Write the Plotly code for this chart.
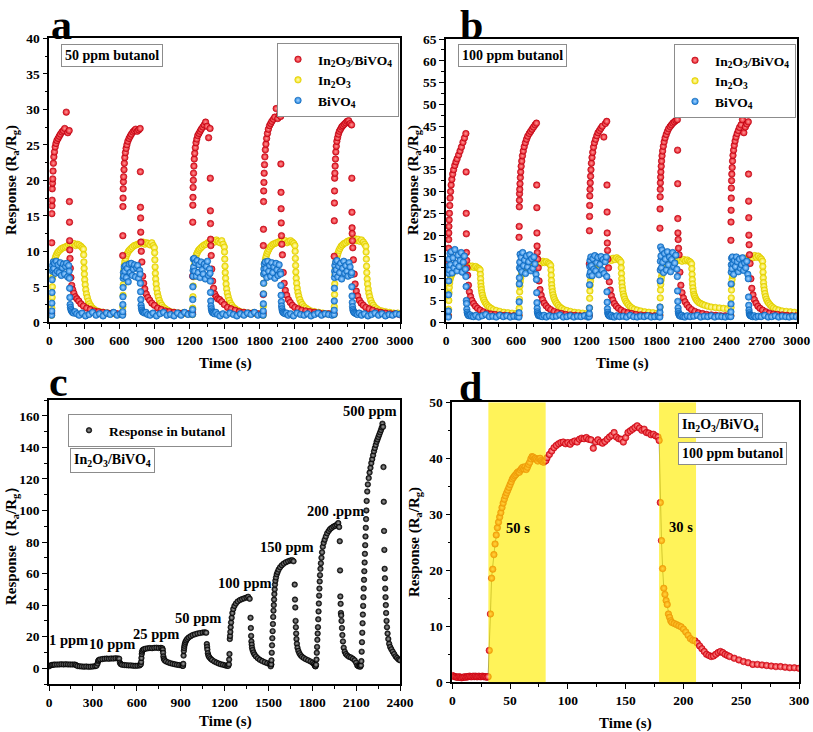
import plotly.graph_objects as go

FONT = "Liberation Serif, Times New Roman, serif"

# ---------------- Panels a / b : cycling data ----------------
A_ONSETS = [20, 627, 1225, 1829, 2436]
B_ONSETS = [20, 624, 1225, 1829, 2436]

RED_REL_T = [0, 1, 2, 3, 4, 5, 7, 9, 12, 15, 19, 24, 30, 37, 45, 55, 65, 75, 88, 100,
             112, 125, 138, 150, 152, 153, 154, 155, 157, 160, 165,
             172, 180, 190, 202, 216, 232, 250, 272, 300, 330, 365, 400, 440, 480, 520, 560]
YEL_REL_T = [0, 2, 4, 6, 8, 11, 15, 20, 26, 33, 41, 50, 60, 72, 85, 100, 115, 130, 145, 160,
             175, 190, 205, 220, 235, 250, 262, 272, 274, 276, 278, 280, 283, 287, 292,
             298, 305, 314, 324, 336, 350, 366, 385, 410, 440, 475, 510, 545, 580]
BLU_REL_T = [0, 1, 2, 3, 4, 5, 7, 10, 14, 19, 25, 32, 40, 48, 56, 65, 74, 83, 92, 101,
             110, 119, 128, 137, 146, 150, 152, 154, 156, 158, 161, 165, 170, 178, 188, 200,
             215, 235, 260, 290, 320, 350, 380, 410, 440, 470, 500, 530, 560, 590]

A_RED = [
    [1.3, 11.2, 15.3, 16.4, 17.2, 18.8, 19.6, 20.2, 21.3, 22.4, 23.3, 24.0, 24.7, 25.2, 25.6, 25.9, 26.2, 26.5, 26.8, 27.0, 27.3, 29.6, 26.7, 27.0,
     17.0, 14.1, 11.5, 10.2, 9.0, 7.6, 6.3, 5.2, 4.6, 4.1, 3.6, 3.3, 3.0, 2.6, 2.3, 2.0, 1.8, 1.6, 1.5, 1.4, 1.3, 1.3, 1.2],
    [1.2, 9.4, 12.2, 16.3, 17.5, 18.8, 19.8, 20.5, 21.5, 22.4, 23.2, 23.9, 24.5, 25.0, 25.5, 25.9, 26.2, 26.5, 26.8, 27.0, 27.2, 26.9, 27.1, 27.3,
     21.2, 16.2, 14.7, 12.7, 11.3, 10.0, 8.5, 6.5, 5.5, 4.7, 4.0, 3.5, 3.1, 2.7, 2.4, 2.0, 1.8, 1.6, 1.5, 1.4, 1.3, 1.3, 1.2],
    [1.3, 6.5, 14.1, 16.5, 17.6, 19.0, 20.0, 21.0, 22.0, 23.0, 23.8, 24.6, 25.3, 25.8, 26.3, 26.6, 26.9, 27.2, 27.5, 27.8, 28.2, 27.6, 26.0, 27.3,
     20.3, 15.7, 13.9, 11.7, 10.8, 9.4, 7.5, 5.8, 4.8, 4.0, 3.6, 3.3, 3.2, 2.9, 2.5, 2.1, 1.9, 1.7, 1.5, 1.4, 1.3, 1.3, 1.2],
    [1.3, 3.9, 10.8, 13.1, 17.0, 18.5, 19.7, 21.0, 22.2, 23.3, 24.3, 25.1, 25.9, 26.6, 27.2, 27.7, 28.0, 28.3, 28.6, 28.9, 30.1, 28.7, 29.2, 29.0,
     22.3, 18.3, 16.0, 14.0, 12.2, 11.0, 9.5, 7.0, 5.5, 4.5, 3.8, 3.2, 2.8, 2.4, 2.1, 1.9, 1.7, 1.6, 1.5, 1.4, 1.3, 1.2, 1.2],
    [1.2, 9.3, 14.3, 16.8, 18.5, 20.3, 21.0, 22.0, 23.0, 24.0, 24.8, 25.5, 26.0, 26.5, 26.9, 27.2, 27.5, 27.7, 27.9, 28.1, 28.3, 28.4, 28.0, 27.8,
     20.3, 15.5, 13.3, 12.5, 11.5, 10.5, 8.8, 6.8, 5.4, 4.4, 3.7, 3.1, 2.7, 2.4, 2.1, 1.9, 1.7, 1.5, 1.4, 1.3, 1.2, 1.2, 1.1],
]
A_YEL = [
    [1.0, 2.0, 3.5, 5.0, 6.3, 7.2, 7.9, 8.4, 8.8, 9.2, 9.5, 9.8, 10.0, 10.2, 10.4, 10.5, 10.6, 10.7, 10.9, 11.0,
     10.9, 11.1, 10.8, 11.0, 10.9, 10.7, 10.5, 10.3, 9.5, 8.5, 7.6, 6.8, 6.0, 5.3, 4.6,
     4.0, 3.5, 3.0, 2.6, 2.3, 2.0, 1.8, 1.6, 1.5, 1.4, 1.3, 1.2, 1.2, 1.1],
    [1.1, 2.2, 3.8, 5.3, 6.5, 7.4, 8.1, 8.6, 9.0, 9.4, 9.7, 10.0, 10.2, 10.4, 10.6, 10.8, 10.9, 11.0, 11.1, 11.2,
     11.3, 11.0, 11.2, 11.1, 10.9, 11.2, 10.8, 10.5, 9.8, 8.8, 7.8, 6.9, 6.1, 5.4, 4.7,
     4.1, 3.6, 3.1, 2.7, 2.4, 2.1, 1.9, 1.7, 1.5, 1.4, 1.3, 1.3, 1.2, 1.2],
    [1.1, 2.0, 3.6, 5.1, 6.4, 7.3, 8.0, 8.6, 9.1, 9.5, 9.8, 10.1, 10.3, 10.5, 10.7, 10.9, 11.0, 11.2, 11.3, 11.4,
     11.5, 11.3, 11.6, 11.4, 11.2, 11.5, 11.0, 10.6, 9.9, 8.9, 7.9, 7.0, 6.2, 5.4, 4.7,
     4.1, 3.6, 3.1, 2.7, 2.4, 2.1, 1.9, 1.7, 1.5, 1.4, 1.3, 1.3, 1.2, 1.2],
    [1.0, 2.3, 4.0, 5.5, 6.8, 7.7, 8.4, 8.9, 9.3, 9.7, 10.0, 10.3, 10.6, 10.8, 11.0, 11.1, 11.2, 11.3, 11.4, 11.5,
     11.3, 11.5, 11.2, 11.4, 11.5, 11.3, 11.1, 10.8, 10.0, 9.0, 8.0, 7.1, 6.2, 5.5, 4.8,
     4.2, 3.7, 3.2, 2.8, 2.5, 2.2, 2.0, 1.8, 1.6, 1.5, 1.4, 1.3, 1.2, 1.2],
    [1.1, 2.2, 3.9, 5.4, 6.7, 7.6, 8.3, 8.9, 9.3, 9.7, 10.1, 10.4, 10.7, 10.9, 11.1, 11.2, 11.4, 11.5, 11.6, 11.7,
     11.8, 11.5, 11.7, 11.4, 11.6, 11.3, 11.0, 10.7, 9.9, 8.9, 7.9, 7.0, 6.1, 5.4, 4.7,
     4.1, 3.6, 3.1, 2.7, 2.4, 2.1, 1.9, 1.7, 1.6, 1.5, 1.4, 1.3, 1.3, 1.2],
]
A_BLU = [
    [1.0, 1.6, 2.7, 4.2, 6.0, 7.2, 8.0, 7.4, 8.5, 7.6, 8.3, 6.9, 8.6, 7.2, 8.1, 7.0, 8.4, 6.6, 7.7, 8.2,
     6.8, 7.9, 8.3, 6.4, 8.0, 7.2, 6.2, 4.8, 3.5, 2.5, 2.1, 1.8, 1.6, 1.4, 1.3, 1.5,
     1.2, 1.0, 1.3, 0.9, 1.1, 1.4, 1.0, 1.2, 0.9, 1.3, 1.1, 1.4, 1.0, 1.2],
    [1.0, 1.5, 2.5, 3.6, 4.9, 6.2, 7.0, 6.5, 7.8, 7.2, 8.0, 6.3, 7.6, 5.7, 8.2, 7.0, 8.3, 6.6, 7.5, 8.1,
     6.4, 7.7, 8.0, 6.2, 7.3, 6.8, 5.5, 4.3, 3.2, 2.4, 2.0, 1.7, 1.5, 1.4, 1.3, 1.4,
     1.1, 1.0, 1.3, 0.9, 1.2, 1.4, 1.0, 1.1, 0.9, 1.3, 1.0, 1.4, 1.1, 1.2],
    [1.1, 1.8, 3.2, 5.0, 6.5, 7.3, 8.9, 7.8, 9.0, 7.2, 8.4, 6.5, 8.7, 7.0, 8.1, 6.3, 8.5, 7.4, 6.8, 8.2,
     6.1, 7.9, 8.6, 6.6, 7.5, 6.9, 5.8, 4.2, 3.0, 2.3, 1.9, 1.6, 1.4, 1.3, 1.2, 1.4,
     1.1, 0.9, 1.2, 1.0, 1.3, 1.1, 0.9, 1.2, 1.0, 1.3, 1.1, 1.4, 1.0, 1.1],
    [1.0, 1.6, 2.6, 4.0, 5.5, 6.8, 7.5, 8.2, 7.0, 8.5, 7.6, 6.3, 8.6, 7.2, 8.0, 6.5, 8.4, 7.0, 7.8, 6.2,
     8.3, 7.4, 6.6, 8.1, 7.1, 6.8, 5.2, 3.8, 2.9, 2.3, 1.9, 1.6, 1.4, 1.3, 1.2, 1.3,
     1.0, 1.2, 0.9, 1.3, 1.1, 1.0, 1.2, 0.9, 1.1, 1.3, 1.0, 1.2, 1.1, 1.0],
    [1.1, 1.7, 3.0, 4.8, 6.3, 7.2, 8.0, 6.8, 8.5, 7.4, 8.7, 6.4, 7.9, 7.0, 8.3, 6.1, 7.6, 8.6, 6.9, 8.0,
     7.2, 6.5, 8.4, 7.8, 6.7, 7.0, 5.0, 3.7, 2.8, 2.2, 1.8, 1.6, 1.4, 1.3, 1.2, 1.1,
     1.3, 1.0, 1.2, 0.9, 1.1, 1.3, 1.0, 1.2, 0.9, 1.1, 1.0, 1.2, 1.1, 1.0],
]

B_RED = [
    [1.5, 13.5, 17.0, 19.0, 20.5, 22.0, 23.5, 25.0, 26.8, 28.5, 30.0, 31.5, 32.8, 34.0, 35.0, 36.0, 36.8, 37.5, 38.4, 39.3, 40.2, 41.3, 42.3, 43.3,
     34.5, 25.0, 20.3, 16.0, 14.2, 12.5, 10.8, 8.5, 7.0, 5.9, 5.0, 4.3, 3.7, 3.2, 2.8, 2.4, 2.1, 1.9, 1.8, 1.7, 1.6, 1.5, 1.5],
    [1.6, 19.5, 22.0, 26.5, 28.0, 29.5, 30.5, 31.8, 33.2, 34.5, 35.8, 37.0, 38.2, 39.3, 40.3, 41.2, 42.0, 42.7, 43.3, 43.8, 44.3, 44.8, 45.3, 45.7,
     31.5, 26.3, 20.5, 17.5, 16.0, 14.5, 12.5, 9.5, 7.5, 6.2, 5.2, 4.4, 3.8, 3.3, 2.9, 2.5, 2.2, 2.0, 1.8, 1.7, 1.6, 1.5, 1.5],
    [1.5, 13.4, 21.0, 24.3, 26.8, 29.0, 30.5, 32.0, 33.5, 35.0, 36.5, 37.8, 39.0, 40.2, 41.2, 42.0, 42.8, 43.5, 44.0, 44.5, 45.0, 42.5, 45.6, 46.1,
     31.5, 25.3, 20.5, 18.2, 16.5, 14.5, 12.5, 9.3, 7.4, 6.1, 5.1, 4.3, 3.7, 3.2, 2.8, 2.4, 2.2, 2.0, 1.8, 1.7, 1.6, 1.5, 1.5],
    [1.6, 21.6, 26.0, 28.8, 30.5, 32.0, 33.3, 34.5, 35.8, 37.0, 38.2, 39.3, 40.4, 41.4, 42.3, 43.1, 43.8, 44.4, 44.9, 45.3, 45.7, 46.0, 46.3, 46.5,
     39.5, 31.8, 23.8, 20.5, 19.0, 17.0, 15.5, 11.5, 8.5, 6.8, 5.6, 4.7, 4.0, 3.4, 2.9, 2.5, 2.2, 2.0, 1.8, 1.7, 1.6, 1.5, 1.5],
    [1.5, 18.8, 23.0, 25.7, 28.5, 30.8, 32.5, 34.0, 35.5, 37.0, 38.3, 39.5, 40.6, 41.6, 42.5, 43.3, 44.0, 44.7, 45.3, 46.5, 43.5, 44.8, 45.5, 46.0,
     34.0, 27.8, 24.0, 20.0, 17.8, 15.5, 13.5, 10.0, 7.8, 6.3, 5.2, 4.4, 3.7, 3.2, 2.8, 2.4, 2.1, 1.9, 1.8, 1.7, 1.6, 1.5, 1.5],
]
B_YEL = [
    [1.5, 3.0, 5.0, 6.8, 8.0, 9.0, 9.8, 10.4, 10.8, 11.2, 11.5, 11.8, 12.0, 12.2, 12.4, 12.5, 12.6, 12.7, 12.8, 12.9,
     13.0, 12.7, 12.9, 12.6, 12.8, 12.5, 12.3, 12.0, 11.0, 10.0, 9.0, 8.2, 7.5, 6.8, 6.2,
     5.6, 5.1, 4.6, 4.2, 3.8, 3.5, 3.2, 2.9, 2.7, 2.5, 2.3, 2.2, 2.1, 2.0],
    [1.6, 3.2, 5.3, 7.0, 8.3, 9.3, 10.1, 10.8, 11.3, 11.7, 12.0, 12.3, 12.6, 12.8, 13.0, 13.2, 13.4, 13.5, 13.7, 13.8,
     13.9, 13.6, 14.0, 13.7, 13.9, 13.6, 13.4, 13.0, 12.0, 10.8, 9.6, 8.6, 7.8, 7.0, 6.3,
     5.7, 5.2, 4.7, 4.3, 3.9, 3.5, 3.2, 2.9, 2.7, 2.5, 2.3, 2.2, 2.1, 2.0],
    [1.6, 3.3, 5.5, 7.2, 8.5, 9.5, 10.4, 11.1, 11.7, 12.1, 12.5, 12.8, 13.1, 13.4, 13.6, 13.8, 14.0, 14.2, 14.3, 14.4,
     14.5, 14.2, 14.7, 14.4, 14.8, 14.5, 14.2, 13.8, 12.5, 11.2, 10.0, 9.0, 8.1, 7.3, 6.5,
     5.9, 5.3, 4.8, 4.4, 4.0, 3.6, 3.3, 3.0, 2.8, 2.6, 2.4, 2.3, 2.2, 2.1],
    [1.7, 3.5, 5.6, 7.4, 8.7, 9.7, 10.5, 11.2, 11.7, 12.1, 12.5, 12.8, 13.0, 13.3, 13.5, 13.7, 13.9, 14.0, 14.1, 14.2,
     14.3, 14.0, 14.4, 14.1, 14.3, 14.0, 13.8, 13.4, 12.3, 11.0, 9.8, 8.8, 7.9, 7.1, 6.4,
     6.0, 5.5, 5.1, 4.8, 4.5, 4.3, 4.1, 3.9, 3.7, 3.5, 3.4, 3.3, 3.2, 3.1],
    [1.6, 3.4, 5.6, 7.4, 8.8, 9.8, 10.7, 11.4, 12.0, 12.5, 12.9, 13.3, 13.6, 13.9, 14.1, 14.3, 14.5, 14.7, 14.8, 14.9,
     15.0, 14.8, 15.3, 14.9, 15.2, 14.8, 14.5, 14.0, 12.8, 11.5, 10.2, 9.1, 8.2, 7.4, 6.6,
     5.9, 5.3, 4.8, 4.4, 4.0, 3.6, 3.3, 3.0, 2.8, 2.6, 2.5, 2.4, 2.3, 2.2],
]
B_BLU = [
    [1.2, 2.6, 6.3, 9.5, 11.2, 13.0, 14.5, 12.0, 15.8, 13.2, 16.2, 11.3, 14.8, 12.5, 16.7, 13.5, 11.8, 15.4, 12.8, 14.2,
     16.0, 11.5, 13.8, 15.2, 12.2, 10.5, 8.2, 5.0, 4.3, 3.0, 2.3, 1.9, 1.6, 1.5, 1.7, 1.4,
     1.3, 1.6, 1.2, 1.5, 1.8, 1.3, 1.4, 1.2, 1.6, 1.3, 1.5, 1.2, 1.4, 1.3],
    [1.2, 2.2, 4.7, 8.8, 10.2, 12.5, 13.8, 15.6, 12.2, 14.9, 11.6, 16.0, 13.0, 14.3, 11.2, 15.2, 12.7, 13.9, 15.5, 11.8,
     14.6, 12.4, 15.0, 13.4, 11.0, 9.8, 6.8, 4.5, 3.2, 2.4, 2.0, 1.7, 1.5, 1.6, 1.4, 1.3,
     1.6, 1.2, 1.5, 1.3, 1.4, 1.7, 1.2, 1.3, 1.5, 1.2, 1.4, 1.3, 1.5, 1.2],
    [1.3, 2.0, 3.3, 8.6, 10.8, 12.8, 14.2, 11.5, 15.0, 13.0, 10.7, 14.6, 12.2, 15.3, 11.8, 13.7, 14.9, 10.9, 13.3, 15.1,
     12.0, 14.4, 11.2, 13.9, 15.0, 10.5, 7.0, 4.6, 3.1, 2.3, 1.9, 1.7, 1.5, 1.4, 1.6, 1.3,
     1.2, 1.5, 1.3, 1.4, 1.2, 1.6, 1.3, 1.2, 1.4, 1.3, 1.5, 1.2, 1.3, 1.4],
    [1.2, 2.3, 3.5, 9.5, 12.0, 14.0, 17.3, 15.2, 12.5, 16.6, 13.8, 11.4, 15.8, 14.5, 12.0, 16.2, 13.2, 15.0, 11.6, 14.4,
     16.0, 12.8, 13.6, 15.4, 12.2, 10.5, 7.2, 4.8, 3.3, 2.5, 2.0, 1.7, 1.5, 1.4, 1.6, 1.3,
     1.2, 1.5, 1.3, 1.4, 1.6, 1.2, 1.4, 1.3, 1.5, 1.2, 1.4, 1.3, 1.2, 1.4],
    [1.3, 2.4, 4.2, 8.8, 11.5, 13.2, 14.7, 12.3, 15.0, 13.5, 11.0, 14.2, 12.8, 15.0, 13.9, 11.6, 14.5, 12.4, 13.2, 14.8,
     11.9, 13.6, 12.5, 14.0, 11.0, 10.0, 5.8, 3.9, 2.8, 2.2, 1.8, 1.6, 1.5, 1.4, 1.3, 1.5,
     1.2, 1.4, 1.3, 1.6, 1.2, 1.3, 1.5, 1.2, 1.4, 1.3, 1.2, 1.4, 1.3, 1.2],
]

SERIES_NAMES = ["In<sub>2</sub>O<sub>3</sub>/BiVO<sub>4</sub>", "In<sub>2</sub>O<sub>3</sub>", "BiVO<sub>4</sub>"]

# ---------------- Panel c : concentration steps ----------------
C_TIME = [0, 10, 20, 30, 40, 55, 70, 85, 100, 115, 130, 145, 160, 175, 185, 195, 210, 225, 240, 255, 270, 285, 300, 315, 325,
          332, 336, 340, 350, 365, 380, 395, 410, 425, 440, 455, 470, 480,
          485, 490, 500, 515, 530, 545, 560, 575, 590, 605, 620,
          628, 630, 632, 634, 636, 640, 648, 660, 675, 690, 705, 720, 735, 750, 765, 775,
          778, 780, 782, 785, 790, 800, 815, 830, 845, 860, 875, 890, 905, 915,
          916, 918, 920, 922, 924, 926, 929, 933, 938, 945, 955, 968, 982, 998, 1015, 1032, 1050, 1065, 1075,
          1079, 1081, 1083, 1086, 1090, 1096, 1105, 1115, 1130, 1145, 1160, 1175, 1190, 1205, 1218,
          1226, 1230, 1232, 1234, 1236, 1238, 1240, 1242, 1245, 1249, 1254, 1260, 1268, 1278, 1290, 1305, 1320, 1335, 1350, 1362, 1372,
          1378, 1380, 1382, 1384, 1386, 1388, 1392, 1398, 1405, 1415, 1428, 1442, 1458, 1475, 1492, 1508, 1520,
          1516, 1519, 1521, 1523, 1525, 1527, 1529, 1531, 1533, 1535, 1537, 1539, 1541, 1543, 1545, 1548, 1552, 1557, 1563, 1570, 1580, 1592, 1605, 1620, 1635, 1650, 1663, 1672,
          1680, 1682, 1684, 1686, 1688, 1690, 1692, 1695, 1699, 1705, 1712, 1720, 1730, 1742, 1756, 1772, 1788, 1802, 1812, 1818, 1822,
          1822, 1826, 1829, 1831, 1833, 1835, 1837, 1839, 1841, 1843, 1845, 1847, 1849, 1851, 1853, 1856, 1859, 1863, 1867, 1872, 1878, 1885, 1893, 1902, 1912, 1922, 1933, 1945, 1957, 1968, 1978, 1984,
          1988, 1990, 1992, 1994, 1996, 1998, 2000, 2003, 2006, 2010, 2015, 2022, 2030, 2040, 2052, 2065, 2078, 2090, 2100, 2108, 2116, 2124,
          2128, 2133, 2136, 2138, 2140, 2142, 2144, 2146, 2148, 2150, 2152, 2154, 2156, 2158, 2160, 2162, 2164, 2166, 2168, 2170, 2172,
          2176, 2180, 2186, 2192, 2198, 2204, 2210, 2216, 2222, 2228, 2234, 2240, 2246, 2252, 2258, 2264, 2270, 2275, 2280, 2284,
          2287, 2289, 2291, 2293, 2295, 2297, 2299, 2301, 2303, 2305, 2308, 2311, 2315, 2320, 2326, 2333, 2341, 2350, 2360, 2370, 2380, 2390, 2400]
C_RESP = [1.2, 1.8, 2.1, 2.2, 2.3, 2.3, 2.4, 2.5, 2.4, 2.5, 2.4, 2.4, 2.3, 2.4, 2.0, 1.4, 1.2, 1.1, 1.0, 1.1, 0.9, 1.0, 1.1, 1.3, 1.6,
          3.0, 4.5, 5.2, 5.6, 5.8, 6.0, 6.1, 6.0, 6.2, 6.1, 6.3, 6.2, 6.0,
          3.5, 2.6, 2.2, 2.0, 1.9, 1.8, 1.8, 1.6, 1.5, 1.6, 1.8,
          2.5, 4.0, 6.5, 9.0, 10.5, 11.5, 12.0, 12.4, 12.6, 12.8, 12.7, 12.9, 13.0, 12.8, 12.9, 12.6,
          11.6, 9.8, 7.5, 6.0, 5.0, 4.3, 3.7, 3.2, 2.8, 2.5, 2.2, 2.0, 1.8, 1.6,
          1.5, 2.8, 8.0, 11.0, 12.8, 14.2, 15.5, 16.6, 17.6, 18.6, 19.5, 20.3, 21.0, 21.5, 22.0, 22.3, 22.6, 22.8, 22.5,
          15.3, 13.5, 11.8, 9.5, 8.0, 7.0, 6.0, 5.2, 4.3, 3.6, 3.0, 2.5, 2.2, 1.8, 1.5,
          1.5, 2.5, 5.5, 9.0, 18.5, 20.5, 23.0, 26.0, 29.0, 32.0, 35.0, 37.5, 39.5, 41.0, 42.3, 43.2, 43.8, 44.3, 44.8, 45.3, 44.0,
          32.0, 25.5, 20.5, 17.0, 15.0, 13.0, 11.5, 10.0, 8.7, 7.5, 6.3, 5.3, 4.5, 3.8, 3.2, 2.7, 2.3,
          1.2, 2.5, 5.0, 9.8, 14.5, 19.0, 23.5, 28.0, 32.5, 36.5, 40.0, 43.5, 47.0, 50.0, 53.0, 55.5, 57.5, 59.5, 61.0, 62.5, 64.0, 65.3, 66.3, 67.2, 67.8, 68.3, 68.5, 67.8,
          53.0, 43.5, 38.5, 30.0, 26.0, 22.0, 18.5, 15.5, 13.0, 11.0, 9.5, 8.3, 7.3, 6.5, 5.7, 5.0, 4.3, 3.5, 2.6, 1.6, 1.3,
          1.2, 2.2, 5.5, 9.8, 13.5, 18.0, 22.0, 26.0, 31.0, 36.0, 41.0, 46.0, 50.5, 55.0, 59.0, 63.0, 66.5, 70.0, 73.5, 77.0, 79.5, 81.5, 83.5, 85.5, 87.0, 88.2, 89.0, 89.8, 90.3, 91.0, 92.0, 89.5,
          80.5, 62.0, 45.5, 40.8, 35.0, 33.5, 30.0, 25.5, 21.0, 17.0, 13.0, 10.5, 9.0, 8.0, 7.2, 6.8, 6.0, 5.0, 3.5, 1.8, 1.2, 1.5,
          1.0, 1.8, 4.5, 10.5, 16.5, 22.5, 28.5, 34.0, 39.5, 45.0, 50.5, 56.0, 61.5, 67.0, 72.5, 78.0, 83.5, 89.0, 94.5, 100.0, 106.0,
          112.0, 116.5, 120.5, 124.0, 127.0, 130.0, 132.5, 135.0, 137.5, 139.5, 141.5, 143.5, 145.0, 146.5, 148.0, 149.5, 151.0, 152.5, 155.0, 153.0,
          127.5, 105.5, 87.0, 75.0, 63.0, 57.0, 50.5, 45.0, 40.0, 35.0, 30.0, 26.0, 22.0, 18.5, 15.5, 13.5, 12.0, 10.5, 9.0, 7.5, 6.5, 5.5, 5.0]
C_LABELS = ["1 ppm", "10 ppm", "25 ppm", "50 ppm", "100 ppm", "150 ppm", "200 .ppm", "500 ppm"]
C_LABEL_T = [130, 430, 730, 1020, 1340, 1630, 1960, 2195]
C_LABEL_Y = [18, 15.5, 21.8, 31.7, 53.9, 76.7, 99.7, 163]

# ---------------- Panel d : single cycle ----------------
D_TIME = [0, 1, 2, 3, 4, 5, 6, 7, 8, 9, 10, 11, 12, 13, 14, 15, 16, 17, 18, 19, 20, 21, 22, 23, 24, 25, 26, 27, 28, 29, 30, 31,
          32, 33, 34, 35, 36, 37, 38, 39, 40, 41, 42, 43, 44, 45, 46, 47, 48, 49, 50, 51, 52, 53, 54, 55, 56, 57, 58, 59, 60, 61,
          62, 63, 64, 65, 66, 67, 68, 69, 70, 71, 72, 73, 74, 75, 76, 77, 78, 79, 80, 81,
          82, 84, 86, 88, 90, 92, 94, 96, 98, 100, 102, 104, 106, 108, 110, 112, 114, 116, 118, 120, 122, 124, 126, 128, 130,
          132, 134, 136, 138, 140, 142, 144, 146, 148, 150, 152, 154, 156, 158, 160, 162, 164, 166, 168, 170, 172, 174, 176, 178, 179,
          180, 181, 182, 183, 184, 185, 186, 187, 188, 189, 190,
          192, 194, 196, 198, 200, 202, 204, 206, 208, 210, 212, 214, 216, 218, 220, 222, 224, 226, 228, 230, 232, 234, 236, 238, 240,
          244, 248, 252, 256, 260, 264, 268, 272, 276, 280, 284, 288, 292, 296, 300]
D_RESP = [1.2, 1.1, 1.0, 1.0, 0.9, 0.9, 1.0, 0.9, 0.8, 0.9, 0.9, 1.0, 0.9, 1.0, 1.0, 1.1, 1.0, 1.0, 1.1, 1.0, 1.1, 1.0, 1.0, 1.1, 1.0, 1.0, 1.1, 1.0, 1.0, 1.0, 0.9, 1.0,
          5.7, 12.2, 18.6, 20.2, 22.8, 24.7, 26.3, 27.6, 28.6, 29.5, 30.3, 31.2, 32.0, 32.7, 33.3, 33.8, 34.3, 34.8, 35.3, 35.8,
          36.3, 36.6, 36.9, 37.1, 37.4, 37.6, 37.5, 37.9, 38.2, 38.4, 38.1, 38.5, 38.0, 38.4, 38.9, 39.3, 39.9, 40.3, 40.2, 39.9,
          40.0, 39.8, 39.5, 39.9, 40.0, 39.6, 39.4, 39.3, 39.5, 39.6,
          40.1, 40.7, 41.3, 41.9, 42.3, 42.6, 42.8, 42.9, 42.6, 42.8, 42.5, 42.9, 43.1, 42.9, 43.4, 43.6, 43.5, 43.7, 43.4, 43.3,
          41.8, 42.9, 43.3, 42.9, 42.7, 43.0, 43.4, 43.8, 44.1, 44.6, 43.8, 43.5, 43.4, 42.9, 43.7, 44.6, 44.9, 45.2, 45.5, 45.8,
          45.4, 45.0, 45.2, 44.6, 44.5, 44.2, 44.3, 44.0, 43.8, 43.2,
          32.1, 25.3, 20.3, 16.8, 15.7, 14.6, 13.9, 12.2, 11.6, 11.0, 10.7,
          10.5, 10.3, 10.1, 9.9, 9.5, 9.0, 8.4, 7.8, 7.5, 7.4, 7.0, 6.5, 6.0, 5.5, 5.0, 4.8, 4.6, 4.7, 5.0, 5.3, 5.5, 5.3, 5.0, 4.8, 4.6,
          4.3, 4.0, 3.7, 3.5, 3.2, 3.2, 3.1, 3.0, 2.9, 2.8, 2.8, 2.7, 2.6, 2.6, 2.5]
D_RESPONSE_WINDOWS = [(31.2, 80.8), (178.9, 210.9)]
D_WINDOW_LABELS = [("50 s", 56.6, 27.5), ("30 s", 198, 27.7)]


def cycles_xy(onsets, rel, cycles):
    xs, ys = [], []
    for on, vals in zip(onsets, cycles):
        for r, v in zip(rel, vals):
            xs.append(on + r)
            ys.append(v)
    return xs, ys


def ball(color, hi, edge, size):
    return dict(color=color, size=size, gradient=dict(type="radial", color=hi),
                line=dict(color=edge, width=0.6))


RED = ball("#e5101c", "#ff9c9c", "#b00010", 6.5)
YEL = ball("#f3e000", "#fffbc8", "#d9c600", 6.5)
BLU = ball("#1a80de", "#a9d5ff", "#0c5fae", 6.5)

fig = go.Figure()

for (xa, ya, leg, onsets, red, yel, blu) in [
    ("x", "y", "legend", A_ONSETS, A_RED, A_YEL, A_BLU),
    ("x2", "y2", "legend2", B_ONSETS, B_RED, B_YEL, B_BLU),
]:
    xr, yr = cycles_xy(onsets, RED_REL_T, red)
    xy_, yy = cycles_xy(onsets, YEL_REL_T, yel)
    xb, yb = cycles_xy(onsets, BLU_REL_T, blu)
    fig.add_trace(go.Scatter(x=xy_, y=yy, mode="markers", marker=YEL, name=SERIES_NAMES[1],
                             xaxis=xa, yaxis=ya, legend=leg, legendrank=2))
    fig.add_trace(go.Scatter(x=xr, y=yr, mode="markers", marker=RED, name=SERIES_NAMES[0],
                             xaxis=xa, yaxis=ya, legend=leg, legendrank=1))
    fig.add_trace(go.Scatter(x=xb, y=yb, mode="markers", marker=BLU, name=SERIES_NAMES[2],
                             xaxis=xa, yaxis=ya, legend=leg, legendrank=3))

fig.add_trace(go.Scatter(x=C_TIME, y=C_RESP, mode="markers", name="Response in butanol",
                         marker=ball("#0a0a0a", "#a8a8a8", "#000000", 5.5),
                         xaxis="x3", yaxis="y3", legend="legend3"))

fig.add_trace(go.Scatter(x=D_TIME, y=D_RESP, mode="lines+markers", showlegend=False,
                         line=dict(color="#808080", width=1),
                         marker=ball("#e8141c", "#ffb0b0", "#c00010", 6.5),
                         xaxis="x4", yaxis="y4"))

W, H = 813, 732


def px_x(p):
    return p / W


def px_y(p):
    return 1 - p / H


def axis(domain, rng, dtick, mdtick, anchor):
    return dict(domain=domain, range=rng, dtick=dtick, tick0=0, anchor=anchor, automargin=False,
                showline=True, linecolor="black", linewidth=1.6, mirror=True,
                ticks="outside", ticklen=5, tickwidth=1.4, tickcolor="black",
                minor=dict(ticks="outside", ticklen=3, tickwidth=1.2, tickcolor="black", dtick=mdtick, tick0=0),
                showgrid=False, zeroline=False,
                tickfont=dict(family=FONT, size=13.5, color="black", weight="bold"))


legend_style = dict(xanchor="left", yanchor="top", bgcolor="white", bordercolor="#8c8c8c", borderwidth=1,
                    font=dict(family=FONT, size=13.5, color="black", weight="bold"), tracegroupgap=0)

ann = []
bold = dict(family=FONT, color="black", weight="bold")
# panel letters (a, b anchored at the top edge so they stay fully inside the page)
for letter, x, y, anchor in [("a", 61, 0, "top"), ("b", 471, 0, "top"),
                             ("c", 58, 382, "middle"), ("d", 470, 387, "middle")]:
    ann.append(dict(text=letter, x=px_x(x), y=px_y(y), xref="paper", yref="paper", showarrow=False,
                    xanchor="center", yanchor=anchor, font=dict(bold, size=42)))
# axis titles
for x, y in [(225, 363), (622, 363), (225, 721), (625, 723)]:
    ann.append(dict(text="Time (s)", x=px_x(x), y=px_y(y), xref="paper", yref="paper", showarrow=False,
                    xanchor="center", yanchor="middle", font=dict(bold, size=15)))
for txt, x, y in [("Response (R<sub>a</sub>/R<sub>g</sub>)", 12, 180),
                  ("Response (R<sub>a</sub>/R<sub>g</sub>)", 414, 180),
                  ("Response（R<sub>a</sub>/R<sub>g</sub>）", 12, 542),
                  ("Response (R<sub>a</sub>/R<sub>g</sub>)", 415, 542)]:
    ann.append(dict(text=txt, x=px_x(x), y=px_y(y), xref="paper", yref="paper", showarrow=False,
                    textangle=-90, xanchor="center", yanchor="middle", font=dict(bold, size=15)))
# boxed notes
for txt, x, y in [("50 ppm butanol", 111.5, 55), ("100 ppm butanol", 512, 55.5),
                  ("In<sub>2</sub>O<sub>3</sub>/BiVO<sub>4</sub>", 112, 460),
                  ("In<sub>2</sub>O<sub>3</sub>/BiVO<sub>4</sub>", 720, 425),
                  ("100 ppm butanol", 732.5, 453.5)]:
    ann.append(dict(text=txt, x=px_x(x), y=px_y(y), xref="paper", yref="paper", showarrow=False,
                    xanchor="center", yanchor="middle", bgcolor="white", bordercolor="#8c8c8c",
                    borderwidth=1, borderpad=3, font=dict(bold, size=14)))
# concentration labels in panel c
for txt, t, v in zip(C_LABELS, C_LABEL_T, C_LABEL_Y):
    ann.append(dict(text=txt, x=t, y=v, xref="x3", yref="y3", showarrow=False,
                    xanchor="center", yanchor="middle", font=dict(bold, size=14.5)))
for txt, t, v in D_WINDOW_LABELS:
    ann.append(dict(text=txt, x=t, y=v, xref="x4", yref="y4", showarrow=False,
                    xanchor="center", yanchor="middle", font=dict(bold, size=14.5)))

shapes = [dict(type="rect", xref="x4", yref="y4", x0=a, x1=b, y0=0, y1=50,
               fillcolor="rgb(255,236,0)", opacity=0.65, line=dict(width=0), layer="above")
          for a, b in D_RESPONSE_WINDOWS]

fig.update_layout(
    width=W, height=H, margin=dict(l=0, r=0, t=0, b=0, autoexpand=False),
    paper_bgcolor="white", plot_bgcolor="white",
    xaxis=axis([px_x(49.3), px_x(400)], [0, 3000], 300, 150, "y"),
    yaxis=axis([px_y(322.3), px_y(38.3)], [0, 40], 5, 2.5, "x"),
    xaxis2=axis([px_x(446), px_x(796.7)], [0, 3000], 300, 150, "y2"),
    yaxis2=axis([px_y(322.3), px_y(39)], [0, 65], 5, 2.5, "x2"),
    xaxis3=axis([px_x(49), px_x(400)], [0, 2400], 300, 150, "y3"),
    yaxis3=axis([px_y(684), px_y(400)], [-10, 170], 20, 10, "x3"),
    xaxis4=axis([px_x(452.3), px_x(799)], [0, 300], 50, 25, "y4"),
    yaxis4=axis([px_y(682.3), px_y(402.3)], [0, 50], 10, 5, "x4"),
    legend=dict(legend_style, x=px_x(277), y=px_y(43)),
    legend2=dict(legend_style, x=px_x(674), y=px_y(44)),
    legend3=dict(legend_style, x=px_x(68), y=px_y(414)),
    annotations=ann,
    shapes=shapes,
)

fig.write_html("out.html", config={"displayModeBar": False},
               post_script="document.body.style.margin='0px';")
